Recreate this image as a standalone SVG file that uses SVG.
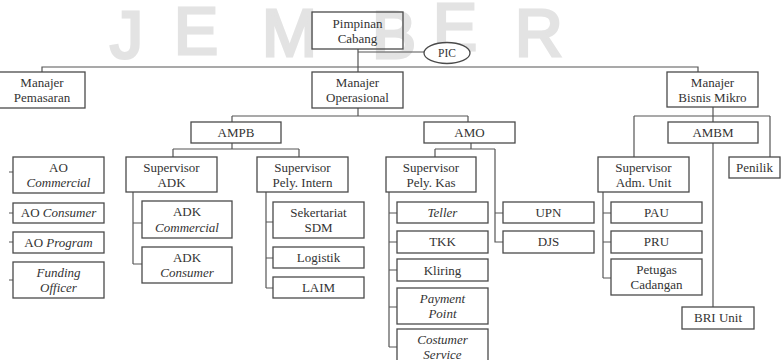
<svg xmlns="http://www.w3.org/2000/svg" width="781" height="360" viewBox="0 0 781 360">
<style>
.b{fill:none;stroke:#4a4a4a;stroke-width:1.3}
.t{font-size:13px;fill:#333;text-anchor:middle}
.i{font-style:italic}
.c{fill:none;stroke:#555;stroke-width:1.2}
.w{font-size:66px;fill:#e3e3e3;stroke:#e3e3e3;stroke-width:3}
</style>
<rect width="781" height="360" fill="#fff"/>
<g id="watermark" font-family="'Liberation Sans', 'DejaVu Sans', sans-serif">
<text class="w" x="110" y="58">J</text>
<text class="w" x="174" y="54">E</text>
<text class="w" x="262" y="56">M</text>
<text class="w" x="372" y="58">B</text>
<text class="w" x="433" y="50">E</text>
<text class="w" x="515" y="56">R</text>
</g>
<g id="connectors" class="c">
<path d="M358,49V72M358,52H424"/>
<path d="M42,72V67H698V72"/>
<path d="M358,108V116M232,116H468M232,116V122M468,116V122"/>
<path d="M232,143V149M173,149H299M173,149V157M299,149V157"/>
<path d="M471,143V149M435,149H495M435,149V157M495,149V242H503M495,213H503"/>
<path d="M389,192V347M389,213H397M389,242H397M389,270H397M389,307H397M389,347H397"/>
<path d="M133,192V264M133,223H142M133,264H142"/>
<path d="M266,192V288M266,222H273M266,258H273M266,288H273"/>
<path d="M713,107V122M634,116H770M634,116V157M770,116V157M713,143V307"/>
<path d="M603,192V278M603,213H611M603,242H611M603,278H611"/>
<path d="M9,172H13M9,213H13M9,242H13M9,280H13"/>
</g>
<g font-family="'Liberation Serif', 'DejaVu Serif', serif">
<g id="pimpinan"><rect class="b" x="312" y="12" width="91" height="37"/><text class="t" x="357.5" y="28">Pimpinan</text><text class="t" x="357.5" y="43">Cabang</text></g>
<g id="pic"><ellipse class="b" cx="447" cy="53" rx="23" ry="10.5" fill="#fff" style="fill:#fff"/><text class="t" x="447" y="57" style="font-size:11.5px">PIC</text></g>
<g id="manajer-pemasaran"><rect class="b" x="-1" y="72" width="86" height="36"/><text class="t" x="42" y="87">Manajer</text><text class="t" x="42" y="102">Pemasaran</text></g>
<g id="manajer-operasional"><rect class="b" x="312" y="72" width="91" height="36"/><text class="t" x="357.5" y="87">Manajer</text><text class="t" x="357.5" y="102">Operasional</text></g>
<g id="manajer-bisnis-mikro"><rect class="b" x="667" y="72" width="91" height="35"/><text class="t" x="712.5" y="87">Manajer</text><text class="t" x="712.5" y="102">Bisnis Mikro</text></g>
<g id="ampb"><rect class="b" x="191" y="122" width="90" height="21"/><text class="t" x="236" y="137">AMPB</text></g>
<g id="amo"><rect class="b" x="424" y="122" width="91" height="21"/><text class="t" x="469.5" y="137">AMO</text></g>
<g id="ambm"><rect class="b" x="668" y="122" width="90" height="21" style="fill:#fff"/><text class="t" x="713" y="137">AMBM</text></g>
<g id="ao-commercial"><rect class="b" x="13" y="157" width="91" height="36"/><text class="t" x="58.5" y="172">AO</text><text class="t i" x="58.5" y="187">Commercial</text></g>
<g id="ao-consumer"><rect class="b" x="13" y="203" width="91" height="20"/><text class="t" x="58.5" y="217">AO <tspan class="i">Consumer</tspan></text></g>
<g id="ao-program"><rect class="b" x="13" y="232" width="91" height="21"/><text class="t" x="58.5" y="247">AO <tspan class="i">Program</tspan></text></g>
<g id="funding-officer"><rect class="b" x="13" y="262" width="91" height="36"/><text class="t i" x="58.5" y="277">Funding</text><text class="t i" x="58.5" y="292">Officer</text></g>
<g id="supervisor-adk"><rect class="b" x="126" y="157" width="91" height="35"/><text class="t" x="171.5" y="172">Supervisor</text><text class="t" x="171.5" y="187">ADK</text></g>
<g id="adk-commercial"><rect class="b" x="142" y="201" width="90" height="37"/><text class="t" x="187" y="216">ADK</text><text class="t i" x="187" y="232">Commercial</text></g>
<g id="adk-consumer"><rect class="b" x="142" y="247" width="90" height="36"/><text class="t" x="187" y="262">ADK</text><text class="t i" x="187" y="277">Consumer</text></g>
<g id="supervisor-pely-intern"><rect class="b" x="257" y="157" width="91" height="35"/><text class="t" x="302.5" y="172">Supervisor</text><text class="t" x="302.5" y="187">Pely. Intern</text></g>
<g id="sekertariat-sdm"><rect class="b" x="273" y="202" width="91" height="36"/><text class="t" x="318.5" y="217">Sekertariat</text><text class="t" x="318.5" y="232">SDM</text></g>
<g id="logistik"><rect class="b" x="273" y="247" width="91" height="21"/><text class="t" x="318.5" y="262">Logistik</text></g>
<g id="laim"><rect class="b" x="273" y="277" width="91" height="21"/><text class="t" x="318.5" y="292">LAIM</text></g>
<g id="supervisor-pely-kas"><rect class="b" x="386" y="157" width="90" height="35"/><text class="t" x="431" y="172">Supervisor</text><text class="t" x="431" y="187">Pely. Kas</text></g>
<g id="teller"><rect class="b" x="397" y="202" width="91" height="21"/><text class="t i" x="442.5" y="217">Teller</text></g>
<g id="tkk"><rect class="b" x="397" y="231" width="91" height="22"/><text class="t" x="442.5" y="246">TKK</text></g>
<g id="kliring"><rect class="b" x="397" y="259" width="91" height="22"/><text class="t" x="442.5" y="275">Kliring</text></g>
<g id="payment-point"><rect class="b" x="397" y="288" width="91" height="36"/><text class="t i" x="442.5" y="303">Payment</text><text class="t i" x="442.5" y="318">Point</text></g>
<g id="costumer-service"><rect class="b" x="397" y="329" width="91" height="36"/><text class="t i" x="442.5" y="344">Costumer</text><text class="t i" x="442.5" y="359">Service</text></g>
<g id="upn"><rect class="b" x="503" y="202" width="91" height="21"/><text class="t" x="548.5" y="217">UPN</text></g>
<g id="djs"><rect class="b" x="503" y="231" width="91" height="22"/><text class="t" x="548.5" y="246">DJS</text></g>
<g id="supervisor-adm-unit"><rect class="b" x="598" y="157" width="91" height="35"/><text class="t" x="643.5" y="172">Supervisor</text><text class="t" x="643.5" y="187">Adm. Unit</text></g>
<g id="pau"><rect class="b" x="611" y="202" width="91" height="21"/><text class="t" x="656.5" y="217">PAU</text></g>
<g id="pru"><rect class="b" x="611" y="231" width="91" height="22"/><text class="t" x="656.5" y="246">PRU</text></g>
<g id="petugas-cadangan"><rect class="b" x="611" y="259" width="91" height="36"/><text class="t" x="656.5" y="274">Petugas</text><text class="t" x="656.5" y="289">Cadangan</text></g>
<g id="penilik"><rect class="b" x="729" y="157" width="51" height="21"/><text class="t" x="754.5" y="172">Penilik</text></g>
<g id="bri-unit"><rect class="b" x="682" y="307" width="72" height="22"/><text class="t" x="718" y="322">BRI Unit</text></g>
</g>
</svg>
